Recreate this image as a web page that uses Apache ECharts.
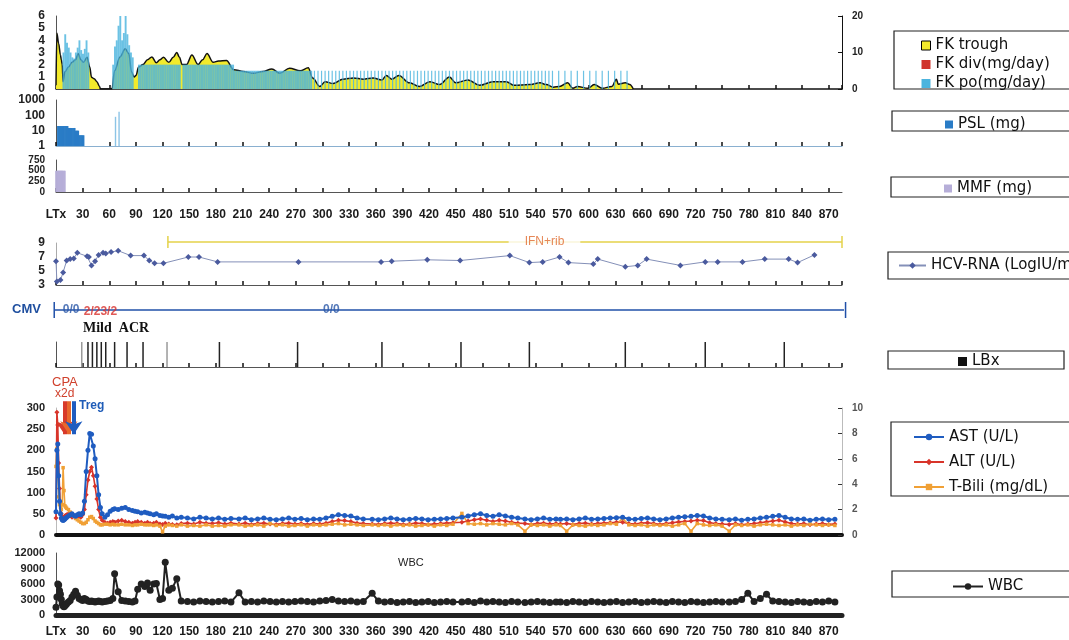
<!DOCTYPE html>
<html>
<head>
<meta charset="utf-8">
<script src="https://cdn.jsdelivr.net/npm/echarts@6/dist/echarts.min.js"></script>
<style>
  html, body { margin: 0; background: #fff; }
  #main { width: 1069px; height: 640px; }
</style>
</head>
<body>
<div id="main"></div>
<script>
// ---- data (day after LTx, value) ----

// FK trough (ng/mL, right axis)
const troughData = [[0,1],[1,15.3],[3,12.5],[5,9.3],[6,8],[7,6.7],[8,2],[10,4.7],[14,6],[18,7.3],[22,8],[25,9.7],[28,8],[31,7.3],[35,8.7],[38,6],[40,3.2],[43,2.8],[46,2],[49,0.7],[50,0],[63,0],[66,5],[72,8.8],[78,11],[82,9.7],[85,4.7],[88,3.3],[90,3.7],[93,6],[98,6.7],[103,8],[108,8.8],[113,7.2],[117,8],[121,8.7],[127,7.3],[132,8.7],[136,10],[139,8.7],[142,6.7],[147,6.7],[153,9.3],[160,6.7],[165,8],[170,9.7],[177,7.3],[183,7.7],[192,7.8],[200,5.3],[211,4.8],[222,4.3],[233,4.8],[243,5.5],[252,4.3],[263,5.7],[275,5],[284,5.8],[289,3],[297,0.7],[303,2],[312,1.5],[323,2.7],[335,3],[346,2.7],[357,3],[367,2.5],[372,3.7],[378,2.7],[386,3.7],[398,1.7],[409,0.7],[421,2],[432,1.2],[443,3.3],[450,1.7],[464,2.5],[477,1],[492,2],[507,2],[516,1],[533,1.2],[545,1.7],[552,1.2],[560,0.5],[567,0.7],[576,1.7],[582,0.2],[587,0.7],[599,0.2],[606,1.2],[615,0.2],[626,0.7],[631,2.7],[633,1.3],[641,1.7],[646,1.2],[650,0]];

// FK div (mg/day) - nothing visible
const fkDivData = [];

// FK po (mg/day), daily period
const fkPoDaily = [
  [8,3.0],[10,4.5],[12,3.8],[14,3.4],[16,3.0],[18,2.6],[20,2.5],[22,3.0],[24,3.4],[26,4.0],[28,3.2],[30,2.9],[32,3.3],[34,4.0],[36,3.0],
  [64,2.0],[66,3.5],[68,4.0],[70,5.2],[72,6.0],[74,4.0],[76,4.6],[78,6.0],[80,4.5],[82,3.6],[84,3.0],[86,2.6],
  [93,2],[95,2],[97,2],[99,2],[101,2],[103,2],[105,2],[107,2],[109,2],[111,2],[113,2],[115,2],[117,2],[119,2],[121,2],[123,2],[125,2],[127,2],[129,2],[131,2],[133,2],[135,2],[137,2],[139,2],
  [143,2],[145,2],[147,2],[149,2],[151,2],[153,2],[155,2],[157,2],[159,2],[161,2],[163,2],[165,2],[167,2],[169,2],[171,2],[173,2],[175,2],[177,2],[179,2],[181,2],[183,2],[185,2],[187,2],[189,2],[191,2],[193,2],[195,2],[197,2],[199,2],
  [201,1.5],[203,1.5],[205,1.5],[207,1.5],[209,1.5],[211,1.5],[213,1.5],[215,1.5],[217,1.5],[219,1.5],[221,1.5],[223,1.5],[225,1.5],[227,1.5],[229,1.5],[231,1.5],[233,1.5],[235,1.5],[237,1.5],[239,1.5],[241,1.5],[243,1.5],
  [245,1.5],[247,1.5],[249,1.5],[251,1.5],[253,1.5],[255,1.5],[257,1.5],[259,1.5],[261,1.5],[263,1.5],[265,1.5],[267,1.5],[269,1.5],[271,1.5],[273,1.5],[275,1.5],[277,1.5],[279,1.5],[281,1.5],[283,1.5],[285,1.5],[287,1.5]
];
// FK po (mg/day), intermittent period
const fkPoIntermittent = [
  [291,1.5],[295,1.5],[299,1.5],[303,1.5],[307,1.5],[311,1.5],[315,1.5],[319,1.5],[323,1.5],[327,1.5],[331,1.5],[335,1.5],[339,1.5],[343,1.5],[347,1.5],[351,1.5],[355,1.5],[359,1.5],[363,1.5],[367,1.5],
  [371,1.5],[375,1.5],[379,1.5],[383,1.5],[387,1.5],[391,1.5],[395,1.5],[399,1.5],[403,1.5],[407,1.5],[411,1.5],[415,1.5],[419,1.5],[423,1.5],[427,1.5],[431,1.5],[435,1.5],[439,1.5],[443,1.5],[447,1.5],
  [451,1.5],[455,1.5],[459,1.5],[463,1.5],[467,1.5],[471,1.5],[475,1.5],[479,1.5],[483,1.5],[487,1.5],[491,1.5],[495,1.5],[499,1.5],[503,1.5],[507,1.5],[511,1.5],[515,1.5],[519,1.5],[523,1.5],[527,1.5],
  [531,1.5],[535,1.5],[539,1.5],[543,1.5],[547,1.5],[551,1.5],[555,1.5],[559,1.5],
  [566,1.5],[573,1.5],[580,1.5],[587,1.5],[594,1.5],[601,1.5],[608,1.5],[615,1.5],[622,1.5],[629,1.5],[636,1.5],[643,1.5]
];

// PSL (mg, log axis): maintenance and pulses
const pslData = [[2,20],[3,20],[4,20],[5,20],[6,20],[7,20],[8,20],[9,20],[10,20],[11,20],[12,20],[13,20],[14,15],[15,15],[16,15],[17,15],[18,15],[19,15],[20,15],[21,15],[22,10],[23,10],[24,10],[25,10],[26,5],[27,5],[28,5],[29,5],[30,5],[31,5]];
const pslPulse = [[67,80],[71,170]];

// MMF (mg)
const mmfData = [[0,500],[1,500],[2,500],[3,500],[4,500],[5,500],[6,500],[7,500],[8,500],[9,500],[10,500]];

// HCV-RNA (LogIU/mL)
const hcvDays = [0,1,5,8,12,16,20,24,35,37,40,44,48,53,56,62,70,84,99,105,111,121,149,161,182,273,366,378,418,455,511,533,548,567,577,605,610,641,655,665,703,731,745,773,798,825,835,854];
const hcvVals = [6.4,3.5,3.7,4.8,6.5,6.7,6.8,7.6,7.1,7.0,5.8,6.4,7.3,7.6,7.5,7.7,7.9,7.2,7.2,6.5,6.1,6.1,7.0,7.0,6.3,6.3,6.3,6.4,6.6,6.5,7.2,6.2,6.3,7.0,6.2,6.0,6.7,5.6,5.8,6.7,5.8,6.3,6.3,6.3,6.7,6.7,6.2,7.3];

// IFN+rib period
const ifnSpan = [126, 885];
const ifnLabelDay = 550;

// CMV antigenemia
const cmvSpan = [-2, 889];
const cmvDays = [17, 50, 310];
const cmvText = ['0/0', '2/23/2', '0/0'];

// liver biopsy days
const lbxDays = [29,36,41,46,51,56,66,80,98,125,184,272,367,456,533,641,731,820];

// CPA x2d / Treg arrows (day, from, to)
const arrowDays = [9.5, 14.5, 20];
const arrowFrom = 316;
const arrowTo = 238;

// lab days shared by AST / ALT / T-Bili / WBC
const labDays = [
  0,1,2,3,4,5,6,7,8,9,10,11,12,14,16,18,20,22,24,26,28,30,32,34,36,38,40,42,44,46,48,50,52,
  55,58,61,64,66,70,74,78,82,86,89,92,96,100,103,106,110,113,117,120,123,127,131,136,141,
  148,155,162,169,176,183,190,197,
  206,213,220,227,234,241,248,255,262,269,276,283,290,297,304,311,318,325,332,339,346,
  356,363,370,377,384,391,398,405,412,419,426,433,440,447,
  457,464,471,478,485,492,499,506,513,520,
  528,535,542,549,556,563,
  568,575,582,589,596,603,610,617,624,631,638,645,652,659,666,673,680,687,694,701,708,715,722,729,736,743,750,
  758,765,772,779,786,793,800,807,814,821,828,835,842,849,856,863,870,877
];
const astVals = [
  55,200,215,140,80,50,40,36,34,36,38,40,42,45,48,50,46,44,48,50,48,52,80,150,200,240,238,210,180,140,95,65,50,
  42,48,56,60,62,60,63,65,60,58,56,55,52,54,52,50,48,50,46,45,44,42,45,40,42,
  40,38,42,40,38,40,37,39,
  38,40,36,38,40,37,36,38,40,37,39,36,38,37,40,44,48,46,45,40,38,
  37,36,38,40,38,36,37,39,38,36,37,38,39,40,
  42,45,48,50,46,44,48,45,42,40,
  38,36,38,40,37,38,
  37,38,36,38,40,37,38,39,40,41,42,38,37,39,40,38,36,38,40,42,43,44,46,45,40,38,37,
  36,38,35,37,38,40,42,44,46,42,38,37,38,35,37,38,36,37
];
const altVals = [
  40,290,260,170,110,70,50,42,40,42,45,46,48,50,46,42,45,42,40,44,42,48,60,95,130,150,160,140,115,85,60,42,35,
  30,28,30,32,30,33,35,32,30,28,30,32,30,28,30,27,28,30,26,25,28,26,25,24,27,
  28,26,30,28,27,29,26,28,
  26,28,25,27,28,26,25,27,28,26,27,25,27,26,28,32,35,34,32,28,27,
  26,25,27,28,27,25,26,28,27,25,26,27,28,29,
  30,33,36,38,35,32,35,33,30,28,
  27,25,27,28,26,27,
  26,27,25,27,28,26,27,28,29,30,30,27,26,28,29,27,25,27,29,31,32,33,35,34,29,27,26,
  25,27,24,26,27,29,31,33,35,31,27,26,27,24,26,27,25,26
];
const tbilVals = [
  5.4,6.8,5.0,3.0,2.4,2.2,2.0,2.4,5.3,3.5,2.3,2.2,2.1,2.0,1.8,1.6,1.5,1.3,1.2,1.1,1.0,0.9,0.9,1.0,1.2,1.4,1.45,1.3,1.1,1.0,0.9,0.8,0.8,
  0.85,0.85,0.8,0.85,0.8,0.8,0.85,0.8,0.8,0.75,0.8,0.8,0.85,0.8,0.8,0.8,0.75,0.8,0.7,0.25,0.7,0.8,0.75,0.7,0.8,
  0.7,0.75,0.7,0.8,0.7,0.75,0.7,0.8,
  0.8,0.7,0.75,0.8,0.7,0.9,0.75,0.8,0.7,0.75,0.8,0.7,0.8,0.75,0.8,0.85,0.9,0.8,0.85,0.8,0.75,
  0.8,0.75,0.8,0.7,0.8,0.75,0.8,0.7,0.75,0.8,0.7,0.8,0.75,0.85,
  1.7,0.9,0.85,0.9,0.8,0.9,0.85,0.8,0.9,0.8,
  0.3,0.8,0.75,0.8,0.7,0.8,
  0.75,0.3,0.8,0.75,0.7,0.8,0.75,0.8,0.9,0.85,1.3,0.8,0.75,0.8,0.7,0.8,0.75,0.8,0.7,0.8,0.9,0.3,0.9,0.8,0.75,0.8,0.7,
  0.3,0.8,0.75,0.8,0.7,0.8,0.85,0.8,0.75,0.8,0.7,0.8,0.75,0.85,0.8,0.75,0.8,0.75
];
const wbcVals = [
  1500,3500,6000,5800,4700,4000,3000,2200,1800,1600,1800,2000,2200,2500,2800,3500,4000,4600,3800,3200,3000,2800,3200,3000,2700,2600,2700,2600,2500,2600,2700,2600,2500,
  2600,2700,2800,3200,8000,4500,2800,2700,2600,2500,2700,5000,6000,5500,6200,4800,6000,6100,3000,3200,10200,4800,5200,7000,2700,
  2600,2500,2700,2600,2500,2600,2700,2500,
  4300,2500,2600,2500,2700,2600,2500,2600,2500,2600,2700,2600,2500,2700,2800,3000,2700,2600,2700,2500,2600,
  4200,2700,2500,2600,2400,2500,2600,2400,2500,2600,2400,2500,2600,2500,
  2500,2600,2400,2700,2500,2600,2500,2400,2600,2500,
  2400,2500,2600,2500,2400,2500,
  2500,2400,2600,2500,2400,2600,2500,2400,2500,2600,2400,2500,2600,2400,2500,2600,2500,2400,2600,2500,2400,2600,2500,2400,2500,2600,2500,
  2500,2600,3000,4200,2600,3200,4000,2700,2600,2500,2400,2600,2500,2400,2600,2500,2700,2500
];

// ---- chart ----
const FONT = 'Liberation Sans';
const LEG_FONT = 'DejaVu Sans';
const pair = (days, vals) => days.map((d, i) => [d, vals[i]]);

const chart = echarts.init(document.getElementById('main'), null, { renderer: 'canvas' });

// panels stacked top to bottom
const panels = [
  { top: 16, height: 73 },   // 0 FK
  { top: 100, height: 46 },  // 1 PSL
  { top: 160, height: 32 },  // 2 MMF
  { top: 243, height: 42 },  // 3 HCV
  { top: 302, height: 16 },  // 4 CMV
  { top: 342, height: 25 },  // 5 LBx
  { top: 408, height: 127 }, // 6 AST/ALT/T-Bili
  { top: 553, height: 62 }   // 7 WBC
];

const dayLabel = {
  show: true, formatter: v => (v === 0 ? 'LTx' : String(v)),
  fontFamily: FONT, fontWeight: 'bold', fontSize: 12, color: '#1a1a1a',
  showMaxLabel: false
};

function xAx(i, extra) {
  return Object.assign({
    type: 'value', gridIndex: i, min: 0, max: 885, interval: 30,
    axisLine: { lineStyle: { color: '#555', width: 1 } },
    axisTick: { inside: true, length: 4, lineStyle: { color: '#111', width: 1.5 } },
    axisLabel: { show: false },
    splitLine: { show: false }
  }, extra || {});
}

function yAx(i, o) {
  const base = {
    type: 'value', gridIndex: i,
    axisLine: { show: true, lineStyle: { color: '#555', width: 1 } },
    axisTick: { show: false },
    splitLine: { show: false },
    axisLabel: { fontFamily: FONT, fontWeight: 'bold', fontSize: 11, color: '#222', margin: 11,
                 showMinLabel: true, showMaxLabel: true, hideOverlap: false, formatter: v => String(v) }
  };
  const lab = Object.assign({}, base.axisLabel, o.axisLabel || {});
  return Object.assign(base, o, { axisLabel: lab });
}

const legText = { fontFamily: LEG_FONT, fontSize: 15, color: '#111' };
const frame = (x, y, w, h) => ({ type: 'rect', shape: { x, y, width: w, height: h }, style: { fill: 'none', stroke: '#222', lineWidth: 1.2 } });

const option = {
  animation: false,
  backgroundColor: '#fff',
  grid: panels.map(p => ({ left: 56, right: 227, top: p.top, height: p.height, outerBoundsMode: 'none' })),
  xAxis: [
    xAx(0, { axisLine: { lineStyle: { color: '#111', width: 1.5 } } }),
    xAx(1, { axisLine: { lineStyle: { color: '#8ab0d0', width: 1 } } }),
    xAx(2, { axisLabel: Object.assign({ margin: 17 }, dayLabel) }),
    xAx(3),
    xAx(4, { show: false }),
    xAx(5),
    xAx(6, { axisLine: { lineStyle: { color: '#111', width: 4 } }, axisTick: { show: false } }),
    xAx(7, { axisLine: { lineStyle: { color: '#222', width: 5 } }, axisTick: { show: false },
             axisLabel: Object.assign({ margin: 11 }, dayLabel) })
  ],
  yAxis: [
    yAx(0, { min: 0, max: 6, interval: 1, axisLabel: { fontSize: 12 } }),                                  // 0 FK dose
    yAx(0, { min: 0, max: 20, interval: 10, position: 'right', axisLine: { show: true, lineStyle: { color: '#111' } },
             axisTick: { show: true, inside: true, length: 4, lineStyle: { color: '#111' } },
             axisLabel: { fontSize: 10, margin: 10 } }),                                                      // 1 FK trough
    yAx(1, { type: 'log', logBase: 10, min: 1, max: 1000, axisLabel: { fontSize: 12 } }),                 // 2 PSL
    yAx(2, { min: 0, max: 750, interval: 250, axisLabel: { fontSize: 10, lineHeight: 9 } }),              // 3 MMF
    yAx(3, { min: 3, max: 9, interval: 2, axisLine: { show: true, lineStyle: { color: '#aaa' } }, axisLabel: { fontSize: 12 } }), // 4 HCV
    yAx(4, { min: 0, max: 1, show: false }),                                                                // 5 CMV
    yAx(5, { min: 0, max: 1, axisLabel: { show: false } }),                                                 // 6 LBx
    yAx(6, { min: 0, max: 300, interval: 50, axisLine: { show: true, lineStyle: { color: '#bbb' } } }),    // 7 AST/ALT
    yAx(6, { min: 0, max: 10, interval: 2, position: 'right', axisLine: { show: true, lineStyle: { color: '#bbb' } },
             axisTick: { show: true, inside: true, length: 4, lineStyle: { color: '#333' } },
             axisLabel: { fontSize: 10, color: '#555', margin: 10 } }),                                      // 8 T-Bili
    yAx(7, { min: 0, max: 12000, interval: 3000, axisLabel: { fontSize: 11 } })                            // 9 WBC
  ],
  legend: [
    {
      data: [{ name: 'FK trough', itemStyle: { color: '#f3ea2c', borderColor: '#000', borderWidth: 1 } },
             { name: 'FK div(mg/day)', itemStyle: { color: '#d0342c' } },
             { name: 'FK po(mg/day)', itemStyle: { color: '#4cb4de' } }],
      left: 921, top: 37, padding: 0, orient: 'vertical', icon: 'rect', itemWidth: 9, itemHeight: 9, itemGap: 2,
      selectedMode: false, textStyle: Object.assign({}, legText, { lineHeight: 17 })
    },
    {
      data: [{ name: 'PSL (mg)', itemStyle: { color: '#2a7cc6' } }], left: 945, top: 117, padding: 0,
      icon: 'rect', itemWidth: 8, itemHeight: 8, selectedMode: false, textStyle: legText
    },
    {
      data: [{ name: 'MMF (mg)', itemStyle: { color: '#b6aed8' } }], left: 944, top: 181, padding: 0,
      icon: 'rect', itemWidth: 8, itemHeight: 8, selectedMode: false, textStyle: legText
    },
    {
      data: ['HCV-RNA (LogIU/mL)'], left: 898, top: 258, padding: 0, itemWidth: 27, itemHeight: 8,
      selectedMode: false, textStyle: legText
    },
    {
      data: [{ name: 'LBx', itemStyle: { color: '#111' } }], left: 958, top: 354, padding: 0,
      icon: 'rect', itemWidth: 9, itemHeight: 9, selectedMode: false, textStyle: legText
    },
    {
      data: ['AST (U/L)', 'ALT (U/L)', 'T-Bili (mg/dL)'], left: 913, top: 428, padding: 0, orient: 'vertical',
      itemWidth: 30, itemHeight: 8, itemGap: 7,
      selectedMode: false, textStyle: Object.assign({}, legText, { lineHeight: 18 })
    },
    {
      data: ['WBC'], left: 952, top: 579, padding: 0, itemWidth: 30, itemHeight: 8,
      selectedMode: false, textStyle: legText
    }
  ],
  graphic: [
    // legend frames
    frame(894, 31, 200, 58),
    frame(892, 111, 200, 20),
    frame(891, 177, 200, 20),
    frame(888, 252, 200, 27),
    frame(888, 351, 176, 18),
    frame(891, 422, 200, 74),
    frame(892, 571, 200, 26),
    // annotations
    { type: 'text', left: 12, top: 303, style: { text: 'CMV', fill: '#1f4f9f', font: 'bold 13px "Liberation Sans"' } },
    { type: 'text', left: 83, top: 321, style: { text: 'Mild  ACR', fill: '#111', font: 'bold 14px "Liberation Serif"' } },
    { type: 'text', left: 52, top: 376, style: { text: 'CPA', fill: '#d0402c', font: '13px "Liberation Sans"' } },
    { type: 'text', left: 55, top: 388, style: { text: 'x2d', fill: '#d0402c', font: '12px "Liberation Sans"' } },
    { type: 'text', left: 79, top: 400, style: { text: 'Treg', fill: '#1f5cb8', font: 'bold 12px "Liberation Sans"' } },
    { type: 'text', left: 398, top: 557, style: { text: 'WBC', fill: '#222', font: '11px "Liberation Sans"' } }
  ],
  series: [
    // FK panel
    {
      name: 'FK trough', type: 'line', xAxisIndex: 0, yAxisIndex: 1, data: troughData,
      smooth: 0.35, smoothMonotone: 'x', symbol: 'none', z: 1,
      itemStyle: { color: '#f3ea2c' },
      lineStyle: { color: '#111', width: 1.5 },
      areaStyle: { color: '#f3ea2c', opacity: 1 }
    },
    {
      name: 'FK div(mg/day)', type: 'bar', xAxisIndex: 0, yAxisIndex: 0, data: fkDivData,
      barWidth: 1.5, barGap: '-100%', itemStyle: { color: '#d0342c' }
    },
    {
      name: 'FK po(mg/day)', type: 'bar', xAxisIndex: 0, yAxisIndex: 0, data: fkPoDaily,
      barWidth: 1.9, barGap: '-100%', z: 3, itemStyle: { color: 'rgba(76,180,222,0.82)' }
    },
    {
      name: 'FK po(mg/day)', type: 'bar', xAxisIndex: 0, yAxisIndex: 0, data: fkPoIntermittent,
      barWidth: 1.2, barGap: '-100%', z: 3, itemStyle: { color: 'rgba(76,180,222,0.82)' }
    },
    // PSL
    {
      name: 'PSL (mg)', type: 'bar', xAxisIndex: 1, yAxisIndex: 2, data: pslData, barWidth: 1.6, barGap: '-100%',
      itemStyle: { color: '#2a7cc6' }
    },
    {
      name: 'PSL (mg)', type: 'bar', xAxisIndex: 1, yAxisIndex: 2, data: pslPulse, barWidth: 1.4, barGap: '-100%',
      itemStyle: { color: '#8cc4e6' }
    },
    // MMF
    {
      name: 'MMF (mg)', type: 'bar', xAxisIndex: 2, yAxisIndex: 3, data: mmfData, barWidth: 1.6,
      itemStyle: { color: '#b6aed8' }
    },
    // HCV-RNA
    {
      name: 'HCV-RNA (LogIU/mL)', type: 'line', xAxisIndex: 3, yAxisIndex: 4, data: pair(hcvDays, hcvVals),
      symbol: 'diamond', symbolSize: 6, itemStyle: { color: '#4a5a9e' },
      lineStyle: { color: '#8490b8', width: 1 }
    },
    {
      name: 'IFN', type: 'line', xAxisIndex: 3, yAxisIndex: 4, clip: false, silent: true,
      data: ifnSpan.map(d => [d, 9.15]), symbol: 'rect', symbolSize: [1.5, 12],
      itemStyle: { color: '#e4d24a' }, lineStyle: { color: '#e4d24a', width: 1.5 }
    },
    {
      name: 'IFN label', type: 'scatter', xAxisIndex: 3, yAxisIndex: 4, clip: false, silent: true, z: 5,
      data: [[ifnLabelDay, 9.15]], symbolSize: 1, itemStyle: { color: 'transparent' },
      label: { show: true, position: 'inside', formatter: 'IFN+rib', color: '#e0692c', fontFamily: FONT,
               fontSize: 12, backgroundColor: '#fff', padding: [1, 16] }
    },
    // CMV
    {
      name: 'CMV', type: 'line', xAxisIndex: 4, yAxisIndex: 5, clip: false, silent: true,
      data: cmvSpan.map(d => [d, 0.5]), symbol: 'rect', symbolSize: [1.5, 16],
      itemStyle: { color: '#2050a8' }, lineStyle: { color: '#2050a8', width: 1.5 }
    },
    {
      name: 'CMV label', type: 'scatter', xAxisIndex: 4, yAxisIndex: 5, clip: false, silent: true, z: 5,
      symbolSize: 1, itemStyle: { color: 'transparent' },
      data: cmvDays.map((d, i) => ({
        value: [d, 0.5],
        label: { formatter: cmvText[i], color: i === 1 ? '#d8302a' : '#2a58a8', offset: [0, i === 1 ? 2 : 0] }
      })),
      label: { show: true, position: 'inside', fontFamily: FONT, fontSize: 12, fontWeight: 'bold' }
    },
    // LBx
    {
      name: 'LBx', type: 'bar', xAxisIndex: 5, yAxisIndex: 6, barWidth: 1.5,
      data: lbxDays.map(d => ({ value: [d, 1], itemStyle: { color: (d === 29 || d === 125) ? '#9a9a9a' : '#222' } }))
    },
    // liver tests
    {
      name: 'AST (U/L)', type: 'line', xAxisIndex: 6, yAxisIndex: 7, data: pair(labDays, astVals),
      symbol: 'circle', symbolSize: 5, z: 4, itemStyle: { color: '#1f5cc0' }, lineStyle: { width: 2 }
    },
    {
      name: 'ALT (U/L)', type: 'line', xAxisIndex: 6, yAxisIndex: 7, data: pair(labDays, altVals),
      symbol: 'diamond', symbolSize: 5, z: 3, itemStyle: { color: '#d8342a' }, lineStyle: { width: 1.6 }
    },
    {
      name: 'T-Bili (mg/dL)', type: 'line', xAxisIndex: 6, yAxisIndex: 8, data: pair(labDays, tbilVals),
      symbol: 'rect', symbolSize: 3.5, z: 3, itemStyle: { color: '#f0a035' }, lineStyle: { width: 1.6 }
    },
    {
      name: 'arrows', type: 'lines', coordinateSystem: 'cartesian2d', xAxisIndex: 6, yAxisIndex: 7,
      clip: false, silent: true, z: 6, symbol: ['none', 'arrow'], symbolSize: 13,
      data: arrowDays.map((d, i) => ({
        coords: [[d, arrowFrom], [d, arrowTo]],
        lineStyle: { color: ['#d83a2a', '#e8682c', '#1f5cc0'][i], width: 4, opacity: 1 }
      }))
    },
    // WBC
    {
      name: 'WBC', type: 'line', xAxisIndex: 7, yAxisIndex: 9, data: pair(labDays, wbcVals),
      symbol: 'circle', symbolSize: 7, itemStyle: { color: '#222' }, lineStyle: { color: '#222', width: 2 }
    }
  ]
};

chart.setOption(option);
</script>
</body>
</html>
